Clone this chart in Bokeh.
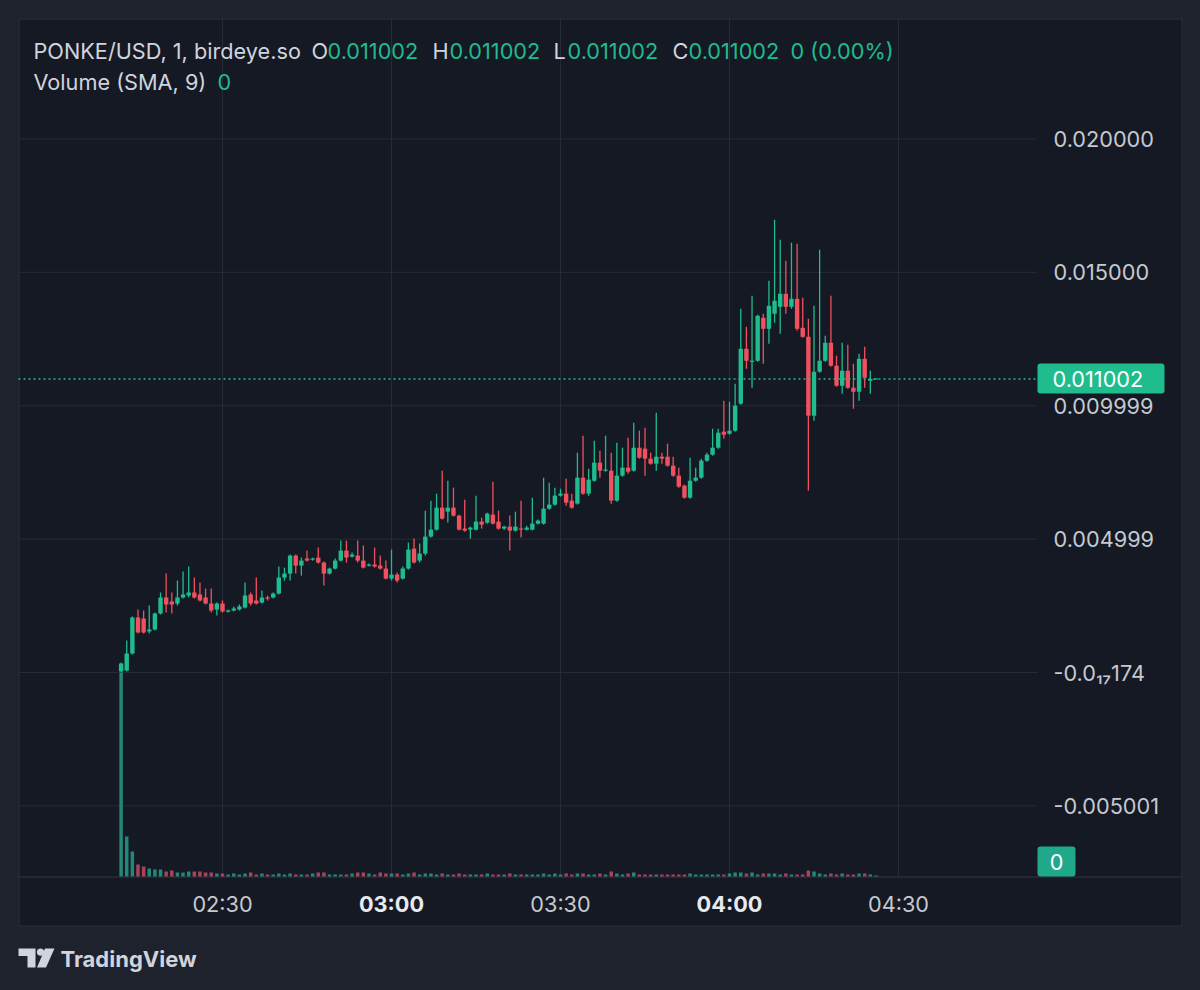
import math
import pandas as pd
from bokeh.plotting import figure
from bokeh.models import (Range1d, Label, BoxAnnotation, ColumnDataSource, GlobalInlineStyleSheet)
from bokeh.core.properties import value
from bokeh.embed import file_html
from bokeh.resources import INLINE

# ---------------- data ----------------
symbol_text = "PONKE/USD, 1, birdeye.so"
volume_text = "Volume (SMA, 9)"
session_day = "2024-05-21"
first_bar = "02:12"

opens = [0.000040, 0.000075, 0.000712, 0.002060, 0.002022, 0.001535, 0.001610, 0.002210, 0.002809, 0.002659,
         0.002584, 0.002809, 0.002884, 0.002996, 0.002921, 0.002809, 0.002584, 0.002359, 0.002584, 0.002284,
         0.002322, 0.002359, 0.002434, 0.002921, 0.002696, 0.002622, 0.002809, 0.002809, 0.002959, 0.003558,
         0.003708, 0.004382, 0.004007, 0.004269, 0.004232, 0.004307, 0.004120, 0.003708, 0.003895, 0.004194,
         0.004569, 0.004344, 0.004382, 0.004194, 0.004007, 0.004045, 0.004007, 0.003895, 0.003520, 0.003670,
         0.003520, 0.003895, 0.004644, 0.004194, 0.004457, 0.005093, 0.005355, 0.006179, 0.006029, 0.006179,
         0.005880, 0.005393, 0.005355, 0.005355, 0.005655, 0.005618, 0.005917, 0.005655, 0.005393, 0.005468,
         0.005318, 0.005393, 0.005355, 0.005355, 0.005580, 0.005580, 0.006142, 0.006292, 0.006629, 0.006704,
         0.006441, 0.006329, 0.007303, 0.006704, 0.007190, 0.007865, 0.007565, 0.007565, 0.006441, 0.007378,
         0.007677, 0.007565, 0.008426, 0.008389, 0.008014, 0.007827, 0.008089, 0.008089, 0.007752, 0.007378,
         0.007003, 0.006554, 0.007190, 0.007303, 0.007939, 0.008164, 0.008426, 0.009025, 0.008951, 0.009063,
         0.010074, 0.012134, 0.011647, 0.011684, 0.013295, 0.012883, 0.013445, 0.013707, 0.014194, 0.013707,
         0.014006, 0.012920, 0.012583, 0.009625, 0.011272, 0.011684, 0.012359, 0.011497, 0.010748, 0.011310,
         0.010673, 0.010523, 0.011759, 0.010935, 0.011002]

highs = [0.000375, 0.001198, 0.002097, 0.002359, 0.002322, 0.002509, 0.002247, 0.002996, 0.003708, 0.002996,
         0.003445, 0.003782, 0.003970, 0.003558, 0.003371, 0.003146, 0.003146, 0.002622, 0.002696, 0.002359,
         0.002472, 0.002547, 0.003371, 0.002996, 0.003558, 0.003071, 0.002884, 0.002996, 0.003970, 0.003932,
         0.004419, 0.004419, 0.004307, 0.004569, 0.004307, 0.004681, 0.004157, 0.003932, 0.004269, 0.004943,
         0.004943, 0.004494, 0.004943, 0.004756, 0.004082, 0.004681, 0.004382, 0.004194, 0.004606, 0.003745,
         0.003970, 0.004869, 0.005018, 0.004831, 0.006067, 0.006441, 0.006704, 0.007565, 0.007190, 0.006928,
         0.005917, 0.006479, 0.005468, 0.006629, 0.005805, 0.005992, 0.007153, 0.006067, 0.005505, 0.005880,
         0.006029, 0.006441, 0.005505, 0.006554, 0.005730, 0.007303, 0.007116, 0.006928, 0.006891, 0.007265,
         0.006704, 0.008239, 0.008876, 0.007640, 0.008688, 0.008314, 0.008876, 0.008239, 0.008614, 0.008426,
         0.008801, 0.009363, 0.009063, 0.009175, 0.008239, 0.009737, 0.008239, 0.008576, 0.008089, 0.007677,
         0.007041, 0.008052, 0.007677, 0.008014, 0.008239, 0.009138, 0.009138, 0.010186, 0.010149, 0.010823,
         0.013632, 0.012958, 0.014119, 0.013407, 0.013445, 0.014680, 0.016965, 0.016216, 0.015429, 0.016104,
         0.016066, 0.014044, 0.013257, 0.013744, 0.015841, 0.012621, 0.014119, 0.011872, 0.012359, 0.012284,
         0.011572, 0.011947, 0.012209, 0.011310, 0.011002]

lows = [0.000010, 0.000037, 0.000674, 0.001461, 0.001461, 0.001461, 0.001573, 0.002172, 0.002247, 0.002210,
        0.002509, 0.002771, 0.002809, 0.002771, 0.002659, 0.002547, 0.002247, 0.002135, 0.002247, 0.002247,
        0.002284, 0.002322, 0.002397, 0.002509, 0.002547, 0.002584, 0.002696, 0.002771, 0.002921, 0.003445,
        0.003445, 0.003708, 0.003633, 0.004157, 0.004194, 0.004082, 0.003258, 0.003670, 0.003857, 0.004157,
        0.004120, 0.004307, 0.004120, 0.003895, 0.003970, 0.003932, 0.003857, 0.003483, 0.003445, 0.003371,
        0.003483, 0.003857, 0.004082, 0.004120, 0.004382, 0.005056, 0.005318, 0.005730, 0.005618, 0.005842,
        0.005318, 0.005280, 0.005018, 0.005318, 0.005393, 0.005580, 0.005543, 0.005355, 0.005355, 0.004569,
        0.005280, 0.005056, 0.005318, 0.005318, 0.005543, 0.005543, 0.006104, 0.006254, 0.006591, 0.006254,
        0.006142, 0.006292, 0.006666, 0.006629, 0.007153, 0.007303, 0.007527, 0.006329, 0.006404, 0.007340,
        0.007453, 0.007527, 0.008014, 0.007378, 0.007790, 0.007565, 0.007827, 0.007715, 0.007340, 0.006928,
        0.006516, 0.006516, 0.007153, 0.007265, 0.007902, 0.008127, 0.008389, 0.008763, 0.008913, 0.009025,
        0.010037, 0.011385, 0.010673, 0.011647, 0.011572, 0.012321, 0.013108, 0.012696, 0.013445, 0.013632,
        0.012808, 0.012546, 0.006816, 0.009437, 0.011235, 0.011647, 0.011460, 0.010711, 0.010449, 0.010636,
        0.009887, 0.010186, 0.010673, 0.010449, 0.011002]

closes = [0.000337, 0.000712, 0.002060, 0.001498, 0.001498, 0.001610, 0.002210, 0.002809, 0.002547, 0.002547,
          0.002809, 0.002921, 0.002996, 0.002809, 0.002696, 0.002584, 0.002322, 0.002584, 0.002284, 0.002322,
          0.002397, 0.002472, 0.002884, 0.002584, 0.002584, 0.002809, 0.002771, 0.002959, 0.003558, 0.003708,
          0.004382, 0.004007, 0.004194, 0.004194, 0.004269, 0.004120, 0.003708, 0.003895, 0.004194, 0.004569,
          0.004307, 0.004419, 0.004194, 0.003932, 0.004045, 0.003970, 0.003895, 0.003520, 0.003670, 0.003445,
          0.003895, 0.004606, 0.004120, 0.004457, 0.005093, 0.005355, 0.006179, 0.005767, 0.006179, 0.005880,
          0.005355, 0.005318, 0.005430, 0.005655, 0.005543, 0.005955, 0.005580, 0.005393, 0.005468, 0.005318,
          0.005468, 0.005355, 0.005430, 0.005580, 0.005692, 0.006142, 0.006292, 0.006629, 0.006704, 0.006367,
          0.006179, 0.007303, 0.006704, 0.007228, 0.007865, 0.007565, 0.007602, 0.006441, 0.007378, 0.007677,
          0.007527, 0.008426, 0.008052, 0.008014, 0.007827, 0.008089, 0.008014, 0.007752, 0.007378, 0.006966,
          0.006554, 0.007190, 0.007303, 0.007939, 0.008164, 0.008426, 0.008988, 0.008913, 0.009063, 0.009999,
          0.012134, 0.011684, 0.011684, 0.013370, 0.012883, 0.013744, 0.013932, 0.014194, 0.013707, 0.014006,
          0.012883, 0.012583, 0.009625, 0.011272, 0.011684, 0.012359, 0.011497, 0.010748, 0.011310, 0.010673,
          0.010523, 0.011759, 0.011048, 0.011002, 0.011002]

volumes = [204, 40, 25, 12, 10, 8, 7, 7, 5, 6,
           4, 4, 5, 5, 5, 4, 4, 3, 3, 2,
           3, 2, 3, 4, 2, 3, 2, 2, 3, 2,
           3, 2, 2, 2, 3, 4, 4, 2, 2, 2,
           2, 3, 4, 4, 3, 2, 4, 3, 3, 3,
           2, 3, 4, 2, 3, 3, 2, 3, 2, 2,
           3, 2, 2, 2, 2, 3, 2, 2, 2, 3,
           2, 2, 2, 2, 2, 3, 2, 3, 2, 3,
           2, 3, 3, 2, 2, 3, 2, 5, 3, 2,
           3, 4, 2, 2, 2, 2, 2, 2, 2, 2,
           2, 3, 2, 2, 2, 2, 2, 2, 3, 4,
           4, 3, 4, 2, 3, 3, 3, 2, 3, 2,
           2, 2, 6, 5, 3, 2, 3, 2, 3, 2,
           2, 3, 3, 2, 1]

price_ticks = [0.020, 0.015, 0.010, 0.005, 0.0, -0.005]
price_tick_labels = ["0.020000", "0.015000", "0.009999", "0.004999", "-0.0\u2081\u2087174", "-0.005001"]
time_tick_labels = ["02:30", "03:00", "03:30", "04:00", "04:30"]
bold_time_labels = ["03:00", "04:00"]
ohlc_names = ["O", "H", "L", "C"]
last_price = 0.011002
last_price_text = "0.011002"
change_text = "0 (0.00%)"
last_volume_text = "0"

# ---------------- style ----------------
OUTER = "#1e222d"
PANEL = "#151924"
EDGE = "#2a2e39"
GRID = "#272b36"
UP = "#1fbc8e"
DOWN = "#f0515f"
UP_VOL = "#25877a"
DOWN_VOL = "#a8435a"
TXT = "#d1d4dc"
AXTXT = "#c6c9d0"
FONT = "Inter"
FS = "21.7px"

W, H = 1200, 990
PX_PER_MIN = 676 / 120.0
PRICE_PER_PX = 0.025 / 667.0


def ms(ts):
    return ts.value / 1e6


t_first = pd.Timestamp(f"{session_day} {first_bar}")
times = [ms(t_first + pd.Timedelta(minutes=i)) for i in range(len(opens))]
tick_ms = [ms(pd.Timestamp(f"{session_day} {s}")) for s in time_tick_labels]

# the frame covers the whole canvas; page pixel <-> data mapping
x_start = tick_ms[0] - 222 / PX_PER_MIN * 60000
x_end = x_start + W / PX_PER_MIN * 60000
y_top = 672 * PRICE_PER_PX
y_bot = y_top - H * PRICE_PER_PX


def X(px):
    return x_start + px / PX_PER_MIN * 60000


def Y(py):
    return y_top - py * PRICE_PER_PX


p = figure(width=W, height=H, x_axis_location=None, y_axis_location=None,
           x_range=Range1d(x_start, x_end), y_range=Range1d(y_bot, y_top),
           output_backend="svg", toolbar_location=None, min_border=0,
           background_fill_color=OUTER, border_fill_color=OUTER, outline_line_color=None)
p.grid.visible = False
p.stylesheets = [GlobalInlineStyleSheet(css=f"html, body {{ background-color: {OUTER}; }}")]

# chart panel
p.quad(left=[X(18.5)], right=[X(1181.5)], top=[Y(18.5)], bottom=[Y(925.5)],
       fill_color=PANEL, line_color=EDGE, line_width=1)

# grid lines (price ticks / time ticks) over the plotting area only
n_p, n_t = len(price_ticks), len(tick_ms)
p.segment(x0=[X(18)] * n_p, y0=price_ticks, x1=[X(1037)] * n_p, y1=price_ticks,
          line_color=GRID, line_width=1)
p.segment(x0=tick_ms, y0=[Y(19)] * n_t, x1=tick_ms, y1=[Y(876)] * n_t,
          line_color=GRID, line_width=1)
# time-scale separator
p.segment(x0=[X(18.5)], y0=[Y(876.5)], x1=[X(1181.5)], y1=[Y(876.5)], line_color=EDGE, line_width=1.5)

# volume (own scale, bars standing on the time-scale separator)
p.extra_y_ranges = {"vol": Range1d(-(H - 876), 876)}
vol_colors = [UP_VOL if c >= o else DOWN_VOL for o, c in zip(opens, closes)]
p.vbar(x=times, top=volumes, bottom=0, width=0.62 * 60000, y_range_name="vol",
       fill_color=vol_colors, line_color=None)

# candles
min_h = 1.2 * PRICE_PER_PX
body_top, body_bot, colors = [], [], []
for o, c in zip(opens, closes):
    hi, lo = max(o, c), min(o, c)
    if hi - lo < min_h:
        mid = (hi + lo) / 2
        hi, lo = mid + min_h / 2, mid - min_h / 2
    body_top.append(hi)
    body_bot.append(lo)
    colors.append(UP if c >= o else DOWN)
src = ColumnDataSource(dict(x=times, high=highs, low=lows, top=body_top, bottom=body_bot, color=colors))
p.segment(x0="x", y0="high", x1="x", y1="low", source=src, line_color="color", line_width=1.3)
p.vbar(x="x", top="top", bottom="bottom", width=0.78 * 60000, source=src,
       fill_color="color", line_color=None)

# last price line
p.segment(x0=[X(18)], y0=[last_price], x1=[X(1037)], y1=[last_price],
          line_color=UP, line_width=1.5, line_dash="2 3")


def text(px, py, s, color, size=FS, align="left", bold=False):
    p.text(x=[X(px)], y=[Y(py)], text=[s], text_color=color, text_font=value(FONT),
           text_font_size=size, text_align=align, text_baseline="middle",
           text_font_style="bold" if bold else "normal")


# price scale labels
p.text(x=[X(1053)] * n_p, y=price_ticks, text=price_tick_labels, text_color=AXTXT,
       text_font=value(FONT), text_font_size=FS, text_align="left", text_baseline="middle")
# time scale labels
norm = [(t, s) for t, s in zip(tick_ms, time_tick_labels) if s not in bold_time_labels]
bold = [(t, s) for t, s in zip(tick_ms, time_tick_labels) if s in bold_time_labels]
p.text(x=[t for t, _ in norm], y=[Y(903)] * len(norm), text=[s for _, s in norm], text_color=AXTXT,
       text_font=value(FONT), text_font_size=FS, text_align="center", text_baseline="middle")
p.text(x=[t for t, _ in bold], y=[Y(903)] * len(bold), text=[s for _, s in bold], text_color="#e8eaef",
       text_font=value(FONT), text_font_size=FS, text_align="center", text_baseline="middle",
       text_font_style="bold")

# price / volume badges
p.add_layout(BoxAnnotation(left=X(1037), right=X(1164), top=Y(363), bottom=Y(393), fill_color=UP,
                           fill_alpha=1, line_color=None, border_radius=3))
p.add_layout(Label(x=X(1052), y=Y(378.5), text=last_price_text, text_color="#ffffff", text_font=FONT,
                   text_font_size=FS, text_align="left", text_baseline="middle"))
p.add_layout(BoxAnnotation(left=X(1037), right=X(1075), top=Y(846), bottom=Y(876), fill_color="#1fa88a",
                           fill_alpha=1, line_color=None, border_radius=3))
p.add_layout(Label(x=X(1056), y=Y(861.5), text=last_volume_text, text_color="#ffffff", text_font=FONT,
                   text_font_size=FS, text_align="center", text_baseline="middle"))

# legend header
text(33, 50, symbol_text, TXT)
ox = [311, 432, 553, 672]
vx = [327, 449, 567, 688]
for name, a, b in zip(ohlc_names, ox, vx):
    text(a, 50, name, TXT)
    text(b, 50, last_price_text, UP)
text(790, 50, change_text, UP)
text(33, 81, volume_text, TXT)
text(217, 81, last_volume_text, UP)

# TradingView logo
LOGO = "#d1d4dc"
t_shape = [(18, 948), (35, 948), (35, 967), (27, 967), (27, 955.5), (18, 955.5)]
slash = [(44.5, 948), (54, 948), (45.5, 967), (36.5, 967)]
dot = [(40 + 3.7 * math.cos(a * math.pi / 8), 951.6 + 3.7 * math.sin(a * math.pi / 8)) for a in range(16)]
shapes = [t_shape, slash, dot]
p.patches(xs=[[X(a) for a, _ in s] for s in shapes], ys=[[Y(b) for _, b in s] for s in shapes],
          fill_color=LOGO, line_color=None)
text(60, 958, "TradingView", LOGO, size="22px", bold=True)

open("out.html", "w").write(file_html(p, INLINE))
